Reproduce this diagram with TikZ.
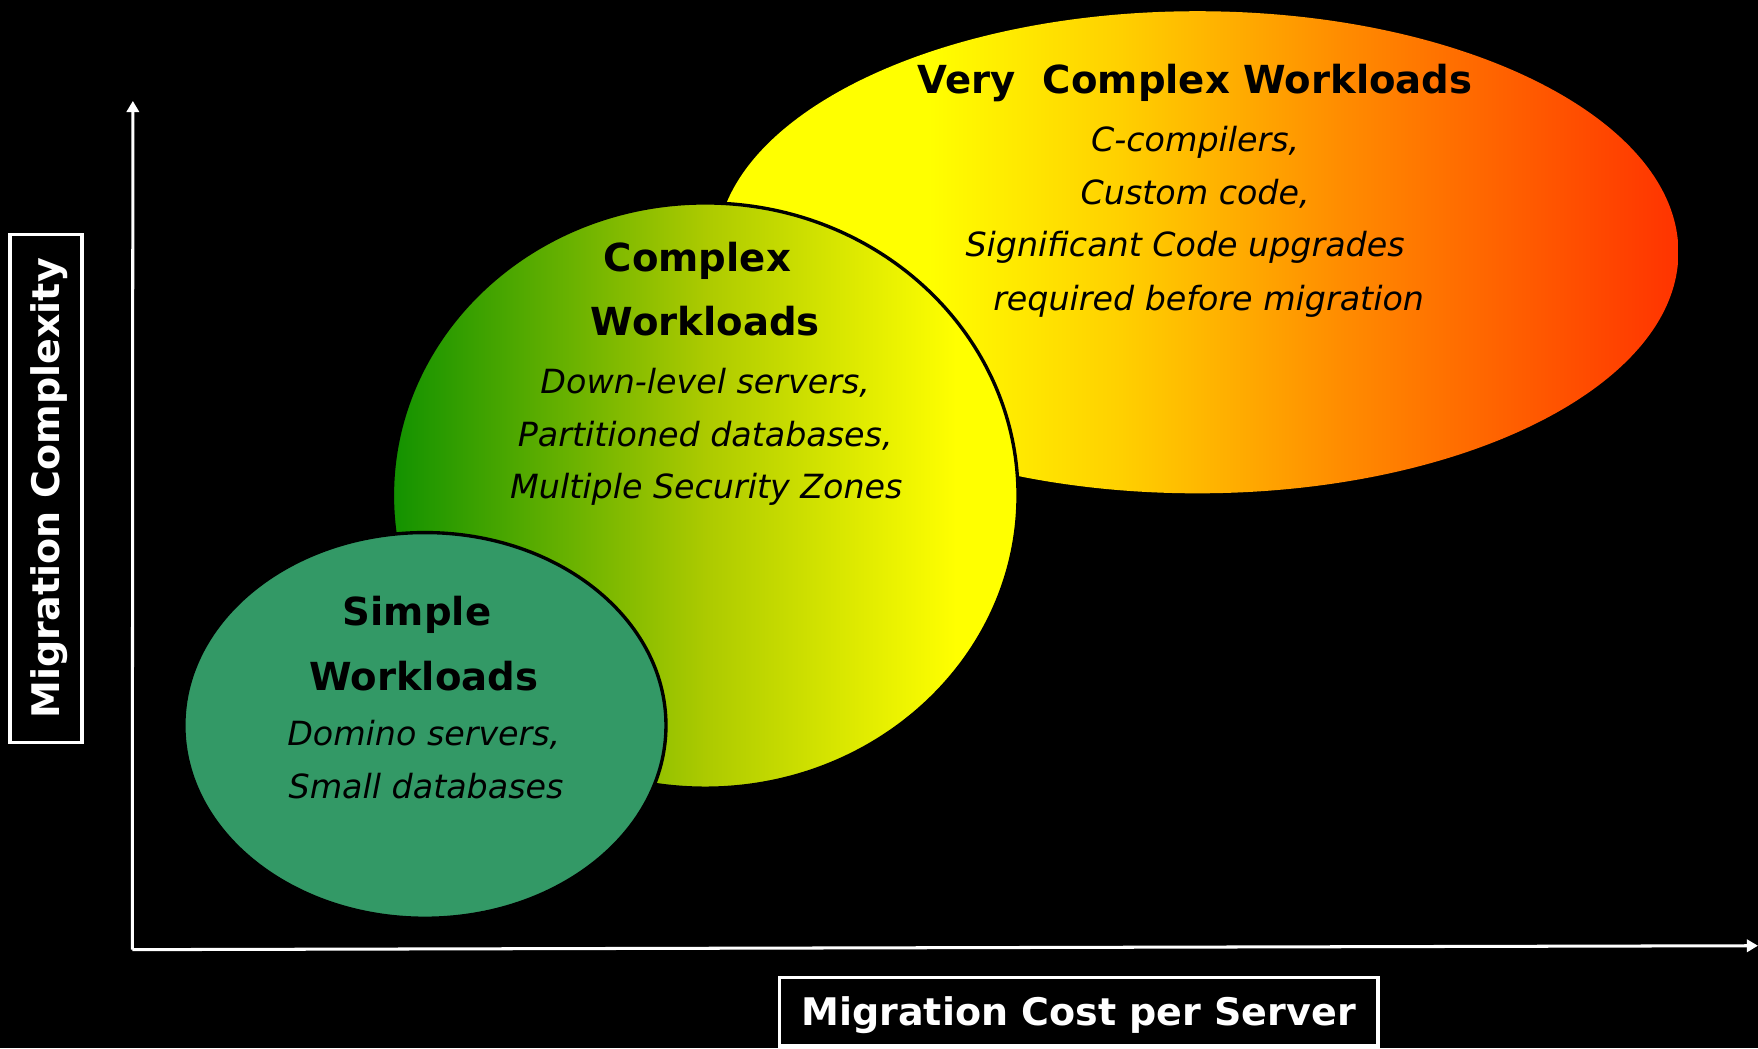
\documentclass[tikz,border=0pt]{standalone}
\usepackage{fontspec}
\setmainfont{DejaVu Sans}
\usetikzlibrary{arrows.meta,shapes.geometric}
\definecolor{vcA}{HTML}{FFFF00}
\definecolor{vcB}{HTML}{FFD000}
\definecolor{vcC}{HTML}{FF8C00}
\definecolor{vcD}{HTML}{FF3300}
\definecolor{cxA}{HTML}{129200}
\definecolor{cxB}{HTML}{ACCA00}
\definecolor{cxC}{HTML}{FFFF00}
\definecolor{smfill}{HTML}{339966}
\pgfdeclarehorizontalshading{vcshade}{100bp}{color(0bp)=(vcA); color(25bp)=(vcA); color(36bp)=(vcA); color(46bp)=(vcB); color(57.5bp)=(vcC); color(75bp)=(vcD); color(100bp)=(vcD)}
\pgfdeclarehorizontalshading{cxshade}{100bp}{color(0bp)=(cxA); color(25bp)=(cxA); color(50bp)=(cxB); color(70bp)=(cxC); color(75bp)=(cxC); color(100bp)=(cxC)}
\tikzset{
  blob/.style={ellipse, inner sep=0pt},
  ttl/.style={font=\bfseries\fontsize{9.8}{11}\selectfont, anchor=base, inner sep=0pt, text=black},
  itm/.style={font=\itshape\fontsize{8.45}{10}\selectfont, anchor=base, inner sep=0pt, text=black},
  axlbl/.style={font=\bfseries\fontsize{9.65}{11}\selectfont, text=white, draw=white, line width=0.03cm, inner sep=0pt, text height=7.03pt, text depth=0pt},
  axis/.style={white, line width=0.027cm, -{Triangle[length=0.1cm, width=0.11cm]}}
}
\begin{document}
\begin{tikzpicture}
\useasboundingbox (0,0) rectangle (15.68,-9.35);
\fill[black] (0,0) rectangle (15.68,-9.35);

% axes
\coordinate (O) at (1.18,-8.47);
\coordinate (ytip) at (1.185,-0.90);
\coordinate (xtip) at (15.68,-8.435);
\draw[axis] (O) -- (ytip);
\draw[axis] (O) -- (xtip);

% ellipses
\node[blob, shade, shading=vcshade, minimum width=8.58cm, minimum height=4.30cm] (vc) at (10.68,-2.25) {};
\node[blob, shade, shading=cxshade, draw=black, line width=0.03cm, minimum width=5.58cm, minimum height=5.22cm] (cx) at (6.29,-4.42) {};
\node[blob, fill=smfill, draw=black, line width=0.03cm, minimum width=4.30cm, minimum height=3.44cm] (sm) at (3.79,-6.47) {};

% very complex texts
\node[ttl] (vct) at (10.66,-0.83) {Very~~Complex Workloads};
\node[itm] (vc1) at (10.66,-1.35) {C-compilers,};
\node[itm] (vc2) at (10.66,-1.82) {Custom code,};
\node[itm] (vc3) at (10.57,-2.29) {Significant Code upgrades};
\node[itm] (vc4) at (10.78,-2.77) {required before migration};

% complex texts
\node[ttl] (cxt1) at (6.22,-2.42) {Complex};
\node[ttl] (cxt2) at (6.29,-2.99) {Workloads};
\node[itm] (cx1) at (6.29,-3.51) {Down-level servers,};
\node[itm] (cx2) at (6.29,-3.98) {Partitioned databases,};
\node[itm] (cx3) at (6.30,-4.45) {Multiple Security Zones};

% simple texts
\node[ttl] (smt1) at (3.72,-5.58) {Simple};
\node[ttl] (smt2) at (3.78,-6.16) {Workloads};
\node[itm] (sm1) at (3.78,-6.65) {Domino servers,};
\node[itm] (sm2) at (3.80,-7.12) {Small databases};

% axis labels
\node[axlbl, rotate=90, minimum width=4.53cm, minimum height=0.64cm] (ylab) at (0.41,-4.355) {Migration Complexity};
\node[axlbl, minimum width=5.34cm, minimum height=0.61cm] (xlab) at (9.62,-9.025) {Migration Cost per Server};
\end{tikzpicture}
\end{document}
